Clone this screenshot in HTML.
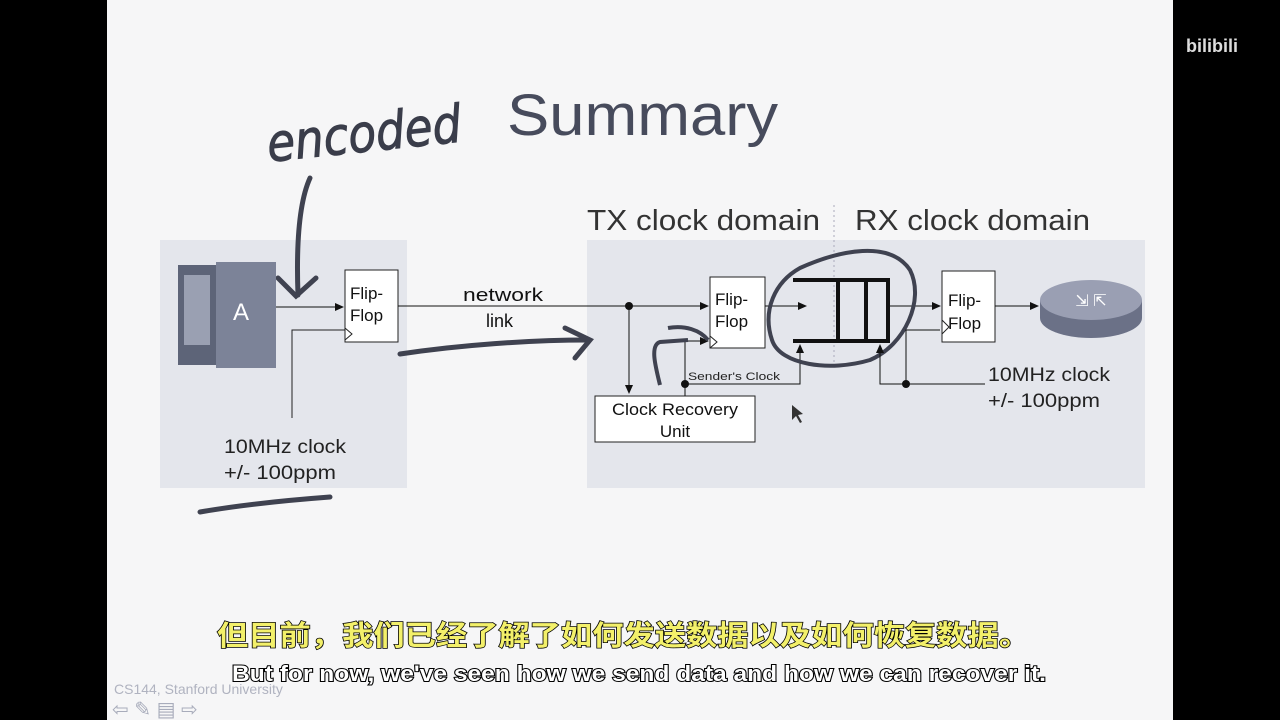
<!DOCTYPE html>
<html><head><meta charset="utf-8"><style>
html,body{margin:0;padding:0;width:1280px;height:720px;overflow:hidden;background:#000}
svg{display:block}
</style></head><body>
<svg width="1280" height="720" viewBox="0 0 1280 720" xmlns="http://www.w3.org/2000/svg" font-family="'Liberation Sans','DejaVu Sans',sans-serif">
<defs>
<marker id="ar" markerWidth="10" markerHeight="10" refX="8" refY="4" orient="auto" markerUnits="userSpaceOnUse"><path d="M0,0 L9,4 L0,8z" fill="#111"/></marker>
</defs>
<rect x="0" y="0" width="1280" height="720" fill="#000"/>
<rect x="107" y="0" width="1066" height="720" fill="#f6f6f7"/>
<rect x="160" y="240" width="247" height="248" fill="#e4e6ec"/>
<rect x="587" y="240" width="558" height="248" fill="#e4e6ec"/>
<line x1="834" y1="205" x2="834" y2="370" stroke="#aab" stroke-dasharray="2,3"/>
<text x="507" y="135" font-size="58" fill="#474b5c" textLength="271" lengthAdjust="spacingAndGlyphs">Summary</text>
<text x="587" y="230" font-size="29" fill="#333" textLength="233" lengthAdjust="spacingAndGlyphs">TX clock domain</text>
<text x="855" y="230" font-size="29" fill="#333" textLength="235" lengthAdjust="spacingAndGlyphs">RX clock domain</text>
<text x="266" y="152" font-size="52" fill="#3a3d4a" font-family="'DejaVu Sans',sans-serif" font-style="italic" stroke="#3a3d4a" stroke-width="1" transform="rotate(-6 360 130)" textLength="195" lengthAdjust="spacingAndGlyphs">encoded</text>
<path d="M310,178 C300,200 296,240 298,295" stroke="#3f4250" stroke-width="5" fill="none" stroke-linecap="round"/>
<path d="M278,278 L296,296 L316,278" stroke="#3f4250" stroke-width="5" fill="none" stroke-linecap="round"/>
<path d="M200,512 C240,505 290,500 330,497" stroke="#3f4250" stroke-width="5" fill="none" stroke-linecap="round"/>
<path d="M400,354 C460,345 530,340 588,340" stroke="#3f4250" stroke-width="5" fill="none" stroke-linecap="round"/>
<path d="M565,328 L590,340 L575,358" stroke="#3f4250" stroke-width="5" fill="none" stroke-linecap="round"/>
<rect x="178" y="265" width="40" height="100" fill="#5d6478"/>
<rect x="216" y="262" width="60" height="106" fill="#7c8398"/>
<rect x="184" y="275" width="26" height="70" fill="#9aa0b2"/>
<text x="233" y="320" font-size="24" fill="#fff">A</text>
<line x1="276" y1="307" x2="343" y2="307" stroke="#111" marker-end="url(#ar)"/>
<rect x="345" y="270" width="53" height="72" fill="#fff" stroke="#222"/>
<path d="M345,328 L352,334 L345,340" fill="none" stroke="#222"/>
<text x="350" y="299" font-size="17" fill="#111">Flip-</text>
<text x="350" y="321" font-size="17" fill="#111">Flop</text>
<polyline points="292,418 292,330 345,330" fill="none" stroke="#222"/>
<text x="224" y="453" font-size="19" fill="#222" textLength="122" lengthAdjust="spacingAndGlyphs">10MHz clock</text>
<text x="224" y="479" font-size="19" fill="#222" textLength="112" lengthAdjust="spacingAndGlyphs">+/- 100ppm</text>
<line x1="398" y1="306" x2="708" y2="306" stroke="#111" marker-end="url(#ar)"/>
<text x="463" y="301" font-size="18" fill="#111" textLength="80" lengthAdjust="spacingAndGlyphs">network</text>
<text x="486" y="327" font-size="18" fill="#111">link</text>
<circle cx="629" cy="306" r="4" fill="#111"/>
<line x1="629" y1="306" x2="629" y2="393" stroke="#111" marker-end="url(#ar)"/>
<rect x="595" y="396" width="160" height="46" fill="#fff" stroke="#222"/>
<text x="675" y="415" font-size="17" fill="#111" text-anchor="middle" textLength="126" lengthAdjust="spacingAndGlyphs">Clock Recovery</text>
<text x="675" y="437" font-size="17" fill="#111" text-anchor="middle">Unit</text>
<rect x="710" y="277" width="55" height="71" fill="#fff" stroke="#222"/>
<path d="M710,336 L717,342 L710,348" fill="none" stroke="#222"/>
<text x="715" y="305" font-size="17" fill="#111">Flip-</text>
<text x="715" y="327" font-size="17" fill="#111">Flop</text>
<polyline points="685,396 685,341 708,341" fill="none" stroke="#111" marker-end="url(#ar)"/>
<circle cx="685" cy="384" r="4" fill="#111"/>
<polyline points="685,384 800,384 800,345" fill="none" stroke="#111" marker-end="url(#ar)"/>
<text x="688" y="380" font-size="11" fill="#222" textLength="92" lengthAdjust="spacingAndGlyphs">Sender's Clock</text>
<line x1="765" y1="306" x2="806" y2="306" stroke="#111" marker-end="url(#ar)"/>
<path d="M793,280 L888,280 L888,341 L793,341" fill="none" stroke="#111" stroke-width="4"/>
<line x1="838" y1="280" x2="838" y2="341" stroke="#111" stroke-width="4"/>
<line x1="866" y1="280" x2="866" y2="341" stroke="#111" stroke-width="4"/>
<line x1="888" y1="306" x2="940" y2="306" stroke="#111" marker-end="url(#ar)"/>
<path d="M800,268 C840,250 890,240 910,270 C925,300 905,345 870,360 C830,372 780,365 772,340 C762,310 775,282 800,268z" fill="none" stroke="#3f4250" stroke-width="4"/>
<path d="M660,385 C655,365 650,345 660,342 L688,340" stroke="#3f4250" stroke-width="4" fill="none"/>
<path d="M668,328 C685,325 700,330 708,340" stroke="#3f4250" stroke-width="4" fill="none"/>
<rect x="942" y="271" width="53" height="71" fill="#fff" stroke="#222"/>
<path d="M942,320 L949,327 L942,334" fill="none" stroke="#222"/>
<text x="948" y="306" font-size="17" fill="#111">Flip-</text>
<text x="948" y="329" font-size="17" fill="#111">Flop</text>
<polyline points="985,384 880,384 880,345" fill="none" stroke="#111" marker-end="url(#ar)"/>
<circle cx="906" cy="384" r="4" fill="#111"/>
<polyline points="906,384 906,330 940,330" fill="none" stroke="#111"/>
<line x1="995" y1="306" x2="1038" y2="306" stroke="#111" marker-end="url(#ar)"/>
<text x="988" y="381" font-size="19" fill="#222" textLength="122" lengthAdjust="spacingAndGlyphs">10MHz clock</text>
<text x="988" y="407" font-size="19" fill="#222" textLength="112" lengthAdjust="spacingAndGlyphs">+/- 100ppm</text>
<ellipse cx="1091" cy="318" rx="51" ry="20" fill="#6b7187"/>
<rect x="1040" y="300" width="102" height="18" fill="#6b7187"/>
<ellipse cx="1091" cy="300" rx="51" ry="20" fill="#9a9fb3"/>
<text x="1091" y="306" font-size="16" fill="#fff" text-anchor="middle">⇲ ⇱</text>
<path d="M792,405 L792,420 L796,416 L800,423 L802,422 L798,415 L803,414z" fill="#333"/>
<text x="114" y="694" font-size="14" fill="#b0b3c0">CS144, Stanford University</text>
<text x="112" y="716" font-size="20" fill="#a8acbb">⇦ ✎ ▤ ⇨</text>
<text x="217" y="645" font-size="28" font-weight="bold" fill="#f3f06a" stroke="#000" stroke-width="1.5" paint-order="stroke" font-family="'Noto Sans CJK SC','WenQuanYi Zen Hei',sans-serif" textLength="813" lengthAdjust="spacingAndGlyphs">但目前，我们已经了解了如何发送数据以及如何恢复数据。</text>
<text x="232" y="681" font-size="22" font-weight="bold" fill="#fff" stroke="#000" stroke-width="2" paint-order="stroke" textLength="814" lengthAdjust="spacingAndGlyphs">But for now, we've seen how we send data and how we can recover it.</text>
<text x="1212" y="52" font-size="18" fill="#ddd" font-weight="bold" text-anchor="middle">bilibili</text>
</svg>
</body></html>
